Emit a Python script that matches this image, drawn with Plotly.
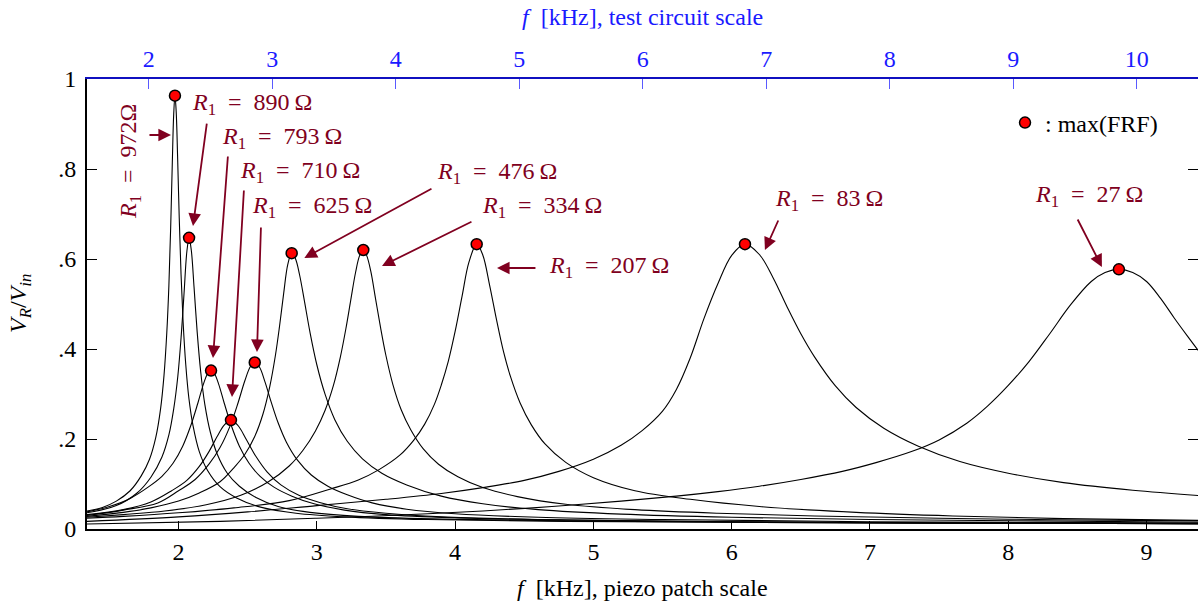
import plotly.graph_objects as go

# ---------------- data ----------------
f_972 = [1.338, 1.45, 1.55, 1.65, 1.73, 1.79, 1.835, 1.87, 1.895, 1.915, 1.93, 1.943, 1.955, 1.965, 1.974,
         1.983, 1.993, 2.005, 2.018, 2.033, 2.052, 2.075, 2.105, 2.15, 2.21, 2.3, 2.42, 2.6, 2.85, 3.2, 3.8, 4.8, 6.0, 7.5, 9.4]
v_972 = [0.040, 0.048, 0.062, 0.085, 0.118, 0.155, 0.203, 0.267, 0.342, 0.436, 0.54, 0.669, 0.815, 0.922, 0.963,
         0.927, 0.829, 0.691, 0.566, 0.46, 0.366, 0.29, 0.229, 0.172, 0.13, 0.094, 0.069, 0.048, 0.035, 0.027, 0.021, 0.017, 0.015, 0.013, 0.012]

f_890 = [1.338, 1.55, 1.7, 1.8, 1.88, 1.93, 1.965, 1.995, 2.02, 2.04, 2.06, 2.076,
         2.092, 2.112, 2.135, 2.16, 2.19, 2.23, 2.28, 2.35, 2.44, 2.56, 2.72, 2.95, 3.3, 3.9, 4.8, 6.0, 7.5, 9.4]
v_890 = [0.036, 0.052, 0.08, 0.115, 0.16, 0.209, 0.267, 0.34, 0.432, 0.525, 0.616, 0.647,
         0.62, 0.538, 0.437, 0.35, 0.277, 0.215, 0.166, 0.125, 0.095, 0.07, 0.05, 0.037, 0.028, 0.022, 0.018, 0.015, 0.013, 0.012]

f_793 = [1.338, 1.5, 1.65, 1.78, 1.88, 1.96, 2.03, 2.09, 2.14, 2.18, 2.21, 2.235,
         2.26, 2.29, 2.33, 2.38, 2.44, 2.51, 2.59, 2.69, 2.82, 2.98, 3.2, 3.5, 4.0, 4.8, 6.0, 7.5, 9.4]
v_793 = [0.038, 0.05, 0.068, 0.093, 0.117, 0.146, 0.184, 0.231, 0.28, 0.322, 0.345, 0.352,
         0.345, 0.322, 0.28, 0.231, 0.184, 0.146, 0.117, 0.093, 0.073, 0.056, 0.042, 0.032, 0.025, 0.02, 0.016, 0.014, 0.012]

f_710 = [1.338, 1.6, 1.8, 1.95, 2.06, 2.15, 2.22, 2.28, 2.33, 2.379,
         2.43, 2.49, 2.56, 2.64, 2.74, 2.87, 3.02, 3.22, 3.5, 3.9, 4.6, 5.6, 7.0, 9.4]
v_710 = [0.032, 0.043, 0.06, 0.085, 0.108, 0.139, 0.172, 0.206, 0.231, 0.242,
         0.23, 0.199, 0.161, 0.127, 0.098, 0.075, 0.059, 0.045, 0.035, 0.027, 0.021, 0.017, 0.014, 0.012]

f_625 = [1.338, 1.6, 1.85, 2.0, 2.12, 2.22, 2.3, 2.37, 2.43, 2.48, 2.52, 2.551,
         2.585, 2.625, 2.67, 2.72, 2.78, 2.86, 2.96, 3.08, 3.22, 3.4, 3.65, 4.0, 4.6, 5.5, 7.0, 9.4]
v_625 = [0.03, 0.042, 0.058, 0.085, 0.11, 0.144, 0.181, 0.227, 0.28, 0.33, 0.361, 0.37,
         0.36, 0.327, 0.282, 0.236, 0.193, 0.153, 0.12, 0.095, 0.076, 0.058, 0.044, 0.034, 0.026, 0.021, 0.016, 0.013]

f_476 = [1.338, 1.6, 1.8, 2.0, 2.15, 2.3, 2.4, 2.48, 2.55, 2.61, 2.66, 2.7, 2.73, 2.76, 2.79, 2.818,
         2.845, 2.875, 2.91, 2.95, 3.0, 3.06, 3.13, 3.22, 3.33, 3.47, 3.65, 3.9, 4.2, 4.6, 5.2, 6.0, 7.0, 8.2, 9.4]
v_476 = [0.028, 0.037, 0.047, 0.062, 0.08, 0.105, 0.136, 0.166, 0.205, 0.255, 0.317, 0.385, 0.45, 0.523, 0.588, 0.613,
         0.601, 0.565, 0.507, 0.438, 0.365, 0.299, 0.243, 0.195, 0.156, 0.124, 0.098, 0.073, 0.056, 0.043, 0.033, 0.026, 0.021, 0.018, 0.015]

f_334 = [1.338, 1.6, 1.9, 2.2, 2.45, 2.65, 2.8, 2.9, 2.99, 3.06, 3.12, 3.17, 3.21, 3.245, 3.28, 3.31, 3.336,
         3.36, 3.39, 3.425, 3.46, 3.5, 3.55, 3.61, 3.68, 3.77, 3.88, 4.02, 4.2, 4.45, 4.8, 5.3, 5.9, 6.6, 7.5, 8.5, 9.4]
v_334 = [0.026, 0.032, 0.04, 0.054, 0.075, 0.105, 0.14, 0.175, 0.218, 0.264, 0.319, 0.382, 0.445, 0.508, 0.57, 0.608, 0.62,
         0.608, 0.573, 0.511, 0.449, 0.385, 0.321, 0.265, 0.22, 0.178, 0.144, 0.116, 0.092, 0.072, 0.055, 0.043, 0.035, 0.029, 0.024, 0.02, 0.018]

f_207 = [1.338, 1.6, 2.0, 2.4, 2.8, 3.1, 3.3, 3.45, 3.6, 3.7, 3.78, 3.85, 3.9, 3.95, 4.0, 4.05, 4.1, 4.156,
         4.2, 4.25, 4.3, 4.35, 4.4, 4.47, 4.55, 4.65, 4.8, 5.0, 5.3, 5.7, 6.2, 6.9, 7.6, 8.4, 9.4]
v_207 = [0.024, 0.028, 0.036, 0.047, 0.063, 0.089, 0.109, 0.132, 0.164, 0.197, 0.233, 0.277, 0.32, 0.372, 0.439, 0.517, 0.593, 0.633,
         0.609, 0.541, 0.464, 0.394, 0.339, 0.28, 0.232, 0.189, 0.148, 0.114, 0.085, 0.066, 0.05, 0.037, 0.029, 0.023, 0.019]

f_83 = [1.338, 2.0, 2.5, 3.0, 3.5, 3.9, 4.2, 4.5, 4.75, 5.0, 5.2, 5.35, 5.5, 5.6, 5.7, 5.8, 5.9, 6.0, 6.096,
        6.2, 6.3, 6.4, 6.5, 6.6, 6.75, 6.9, 7.1, 7.35, 7.65, 8.0, 8.4, 8.9, 9.4]
v_83 = [0.017, 0.027, 0.038, 0.052, 0.066, 0.079, 0.092, 0.108, 0.128, 0.155, 0.186, 0.218, 0.262, 0.31, 0.38, 0.468, 0.545, 0.608, 0.633,
        0.61, 0.558, 0.494, 0.434, 0.382, 0.318, 0.27, 0.224, 0.184, 0.15, 0.124, 0.103, 0.086, 0.074]

f_27 = [1.338, 2.3, 3.0, 3.6, 4.2, 4.7, 5.2, 5.6, 5.9, 6.2, 6.5, 6.8, 7.05, 7.3, 7.5, 7.7, 7.85, 8.0, 8.15, 8.3, 8.45, 8.6, 8.7, 8.8,
        8.9, 9.0, 9.1, 9.2, 9.3, 9.4]
v_27 = [0.011, 0.017, 0.024, 0.031, 0.04, 0.05, 0.062, 0.073, 0.083, 0.095, 0.11, 0.128, 0.148, 0.172, 0.198, 0.235, 0.273, 0.319, 0.372, 0.434, 0.498, 0.55, 0.57, 0.577,
        0.57, 0.55, 0.513, 0.469, 0.427, 0.386]

curves_f = [f_972, f_890, f_793, f_710, f_625, f_476, f_334, f_207, f_83, f_27]
curves_v = [v_972, v_890, v_793, v_710, v_625, v_476, v_334, v_207, v_83, v_27]

peak_f = [1.974, 2.076, 2.235, 2.379, 2.551, 2.818, 3.336, 4.156, 6.096, 8.800]
peak_v = [0.963, 0.647, 0.352, 0.242, 0.370, 0.613, 0.620, 0.633, 0.633, 0.577]

bottom_ticks = [2, 3, 4, 5, 6, 7, 8, 9]
top_ticks = [2, 3, 4, 5, 6, 7, 8, 9, 10]
y_ticks = [0, 0.2, 0.4, 0.6, 0.8, 1]
y_ticktext = ["0", ".2", ".4", ".6", ".8", "1"]

# ---------------- styling / placement ----------------
FONT = "Liberation Serif"
RED = "#800020"
BLUE = "#1a1aff"
FS = 24

fig = go.Figure()
for fx, vy in zip(curves_f, curves_v):
    fig.add_trace(go.Scatter(x=fx, y=vy, mode="lines",
                             line=dict(color="black", width=1.1, shape="spline", smoothing=1.0),
                             showlegend=False, hoverinfo="skip"))

# invisible helper trace so the top / right axes are drawn
fig.add_trace(go.Scatter(x=[top_ticks[0], top_ticks[-1]], y=[0.5, 0.5], xaxis="x2", yaxis="y2",
                         mode="lines", opacity=0, showlegend=False, hoverinfo="skip"))

fig.add_trace(go.Scatter(x=peak_f, y=peak_v, mode="markers", name=": max(FRF)",
                         marker=dict(size=11, color="#ff0000", line=dict(color="black", width=1.5)),
                         showlegend=True, hoverinfo="skip"))

# label annotations: (text, x, y)
label_pos = [
    ("890", 2.083, 0.944), ("793", 2.300, 0.869), ("710", 2.430, 0.793), ("625", 2.517, 0.716),
    ("476", 3.854, 0.791), ("334", 4.180, 0.716), ("207", 4.664, 0.582), ("83", 6.298, 0.731),
    ("27", 8.178, 0.740),
]
ann = []
for r, x, y in label_pos:
    ann.append(dict(x=x, y=y, xref="x", yref="y", xanchor="left", yanchor="middle", showarrow=False,
                    text="<i>R</i><sub>1</sub>\u2002=\u2002" + r + "\u2009\u03a9",
                    font=dict(family=FONT, size=FS, color=RED)))
ann.append(dict(x=1.649, y=0.8156, xref="x", yref="y", xanchor="center", yanchor="middle",
                textangle=-90, showarrow=False,
                text="<i>R</i><sub>1</sub>\u2002=\u2002972\u03a9",
                font=dict(family=FONT, size=FS, color=RED)))

# arrows: (tail x, tail y, head x, head y)
arrows = [
    (1.779, 0.8756, 1.9454, 0.8756),
    (2.2057, 0.9044, 2.1045, 0.6733),
    (2.3575, 0.8311, 2.2491, 0.380),
    (2.4732, 0.7556, 2.3864, 0.2933),
    (2.5961, 0.6733, 2.5672, 0.3933),
    (3.8398, 0.7578, 2.9098, 0.6022),
    (4.1290, 0.6844, 3.4710, 0.5844),
    (4.5918, 0.580, 4.3026, 0.580),
    (6.3416, 0.6889, 6.2403, 0.620),
    (8.4963, 0.6911, 8.6771, 0.5822),
]
for tx, ty, hx, hy in arrows:
    ann.append(dict(x=hx, y=hy, ax=tx, ay=ty, xref="x", yref="y", axref="x", ayref="y",
                    text="", showarrow=True, arrowhead=2, arrowsize=1.4, arrowwidth=1.8,
                    arrowcolor=RED, standoff=0, startstandoff=0))

# axis titles
ann.append(dict(x=0.5, y=-0.1311, xref="paper", yref="paper", xanchor="center", yanchor="middle",
                showarrow=False, text="<i>f</i>\u2002[kHz], piezo patch scale",
                font=dict(family=FONT, size=FS, color="black")))
ann.append(dict(x=0.5, y=1.1378, xref="paper", yref="paper", xanchor="center", yanchor="middle",
                showarrow=False, text="<i>f</i>\u2002[kHz], test circuit scale",
                font=dict(family=FONT, size=FS, color=BLUE)))
ann.append(dict(x=-0.0603, y=0.5, xref="paper", yref="paper", xanchor="center", yanchor="middle",
                showarrow=False, textangle=-90,
                text="<i>V</i><sub><i>R</i></sub>/<i>V</i><sub><i>in</i></sub>",
                font=dict(family=FONT, size=FS, color="black")))

fig.update_layout(
    width=1198, height=605,
    margin=dict(l=87, r=0, t=79, b=76),
    paper_bgcolor="white", plot_bgcolor="white",
    font=dict(family=FONT, size=FS, color="black"),
    annotations=ann,
    legend=dict(x=0.8263, y=0.9022, xanchor="left", yanchor="middle",
                bgcolor="rgba(0,0,0,0)", font=dict(family=FONT, size=FS, color="black")),
    xaxis=dict(range=[1.338, 9.372], tickvals=bottom_ticks, ticks="inside", ticklen=8,
               tickcolor="black", tickwidth=1, showline=True, linecolor="black", linewidth=2,
               showgrid=False, zeroline=False, ticklabelstandoff=0,
               tickfont=dict(family=FONT, size=FS, color="black")),
    xaxis2=dict(range=[1.5, 10.496], tickvals=top_ticks, overlaying="x", side="top", anchor="y",
                ticks="inside", ticklen=10, tickcolor="#5a5aff", tickwidth=1, showline=True,
                linecolor="#1010c0", linewidth=1.5, showgrid=False, zeroline=False,
                ticklabelstandoff=1, tickfont=dict(family=FONT, size=FS, color=BLUE)),
    yaxis=dict(range=[0, 1], tickvals=y_ticks, ticktext=y_ticktext, ticks="inside", ticklen=10,
               tickcolor="black", tickwidth=1, showline=True, linecolor="black", linewidth=2,
               showgrid=False, zeroline=False, ticklabelstandoff=4,
               tickfont=dict(family=FONT, size=FS, color="black")),
    yaxis2=dict(range=[0, 1], tickvals=y_ticks[1:-1], overlaying="y", side="right", anchor="x",
                ticks="inside", ticklen=10, tickcolor="black", tickwidth=1, showline=False,
                showticklabels=False, showgrid=False, zeroline=False),
)

fig.write_html("out.html")
